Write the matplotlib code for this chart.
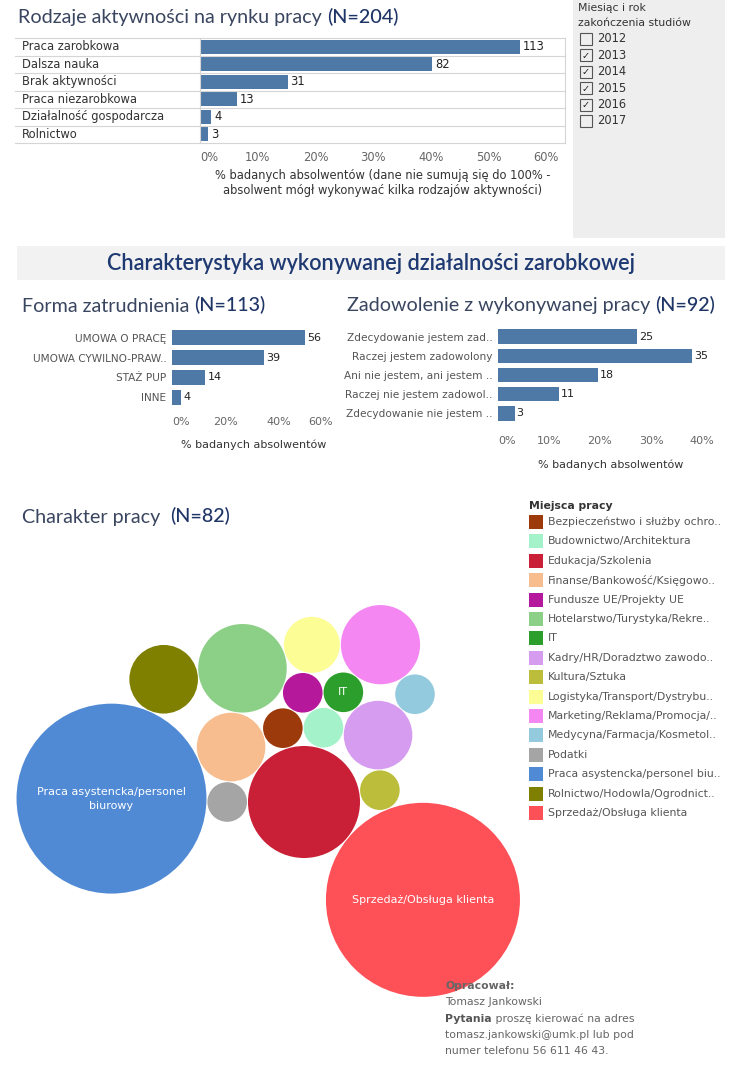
import matplotlib
matplotlib.use('Agg')
import matplotlib.pyplot as plt
from matplotlib.patches import Circle, Rectangle
from matplotlib.transforms import blended_transform_factory
import numpy as np

# --- dane ---
aktywnosci = ['Praca zarobkowa', 'Dalsza nauka', 'Brak aktywności', 'Praca niezarobkowa',
              'Działalność gospodarcza', 'Rolnictwo']
aktywnosci_n = [113, 82, 31, 13, 4, 3]
N_AKT = 204

formy = ['UMOWA O PRACĘ', 'UMOWA CYWILNO-PRAW..', 'STAŻ PUP', 'INNE']
formy_n = [56, 39, 14, 4]
N_FORMY = 113

zadowolenie = ['Zdecydowanie jestem zad..', 'Raczej jestem zadowolony', 'Ani nie jestem, ani jestem ..',
               'Raczej nie jestem zadowol..', 'Zdecydowanie nie jestem ..']
zadowolenie_n = [25, 35, 18, 11, 3]
N_ZAD = 92

lata = ['2012', '2013', '2014', '2015', '2016', '2017']
lata_zaznaczone = [False, True, True, True, True, False]

miejsca = ['Bezpieczeństwo i służby ochro..', 'Budownictwo/Architektura', 'Edukacja/Szkolenia',
           'Finanse/Bankowość/Księgowo..', 'Fundusze UE/Projekty UE', 'Hotelarstwo/Turystyka/Rekre..',
           'IT', 'Kadry/HR/Doradztwo zawodo..', 'Kultura/Sztuka', 'Logistyka/Transport/Dystrybu..',
           'Marketing/Reklama/Promocja/..', 'Medycyna/Farmacja/Kosmetol..', 'Podatki',
           'Praca asystencka/personel biu..', 'Rolnictwo/Hodowla/Ogrodnict..', 'Sprzedaż/Obsługa klienta']
miejsca_n = [1, 1, 8, 3, 1, 5, 1, 3, 1, 2, 4, 1, 1, 23, 3, 24]
miejsca_kolory = ['#9c3a0c', '#a3f2c9', '#c92037', '#f7bd8f', '#b5189b', '#8ccf86', '#2c9e2c', '#d69cf0',
                  '#bcbd3b', '#fdfd96', '#f587f2', '#94cade', '#a5a5a5', '#508ad5', '#7f7f00', '#fe5057']
etykiety_babli = {13: 'Praca asystencka/personel\nbiurowy', 15: 'Sprzedaż/Obsługa klienta', 6: 'IT'}
N_MIEJSCA = 82

# --- styl ---
W, H = 736, 1082
BAR = '#4e79a7'
NAVY = '#3a4660'
NBLUE = '#1f3566'
NARROW = ['Liberation Sans Narrow', 'DejaVu Sans']

fig = plt.figure(figsize=(W / 100, H / 100), dpi=100)


def px_axes(x, y, w, h):
    return fig.add_axes([x / W, 1 - (y + h) / H, w / W, h / H])


def tick_labels(ax, ticks, fs, family, first_left=True, last_right=False):
    ax.set_xticks(ticks)
    ax.set_xticklabels([f'{t}%' for t in ticks], fontsize=fs, color='#666', family=family)
    labs = ax.get_xticklabels()
    if first_left:
        labs[0].set_ha('left')
    if last_right:
        labs[-1].set_ha('right')


# --- Rodzaje aktywności ---
ax1 = px_axes(200, 38, 365, 105)
pct1 = np.array(aktywnosci_n) / N_AKT * 100
y1 = np.arange(len(aktywnosci))
ax1.barh(y1, pct1, height=0.78, color=BAR)
ax1.set_xlim(0, 365 / 5.77)
ax1.set_ylim(len(aktywnosci) - 0.5, -0.5)
tr1 = blended_transform_factory(ax1.transAxes, ax1.transData)
for i, (p, n) in enumerate(zip(pct1, aktywnosci_n)):
    ax1.text(p + 0.5, i, str(n), va='center', ha='left', fontsize=8.3, color='#222')
    ax1.text(-0.488, i, aktywnosci[i], transform=tr1, va='center', ha='left', fontsize=8.3, color='#333')
for b in np.arange(-0.5, len(aktywnosci)):
    ax1.plot([-0.507, 1], [b, b], transform=tr1, color='#d5d5d5', lw=0.8, clip_on=False)
ax1.set_yticks([])
tick_labels(ax1, [0, 10, 20, 30, 40, 50, 60], 8.3, 'DejaVu Sans')
ax1.tick_params(axis='x', length=0, pad=6)
for s in ['top', 'bottom']:
    ax1.spines[s].set_visible(False)
for s in ['left', 'right']:
    ax1.spines[s].set_color('#d5d5d5')
    ax1.spines[s].set_linewidth(0.8)
ax1.set_xlabel('% badanych absolwentów (dane nie sumują się do 100% -\n'
               'absolwent mógł wykonywać kilka rodzajów aktywności)',
               fontsize=8.3, color='#333', linespacing=1.25, labelpad=3)

# --- Forma zatrudnienia ---
ax2 = px_axes(172, 328, 163, 79)
pct2 = np.array(formy_n) / N_FORMY * 100
y2 = np.arange(len(formy))
ax2.barh(y2, pct2, height=0.76, color=BAR)
ax2.set_xlim(0, 163 / 2.68)
ax2.set_ylim(len(formy) - 0.5, -0.5)
for i, (p, n) in enumerate(zip(pct2, formy_n)):
    ax2.text(p + 0.8, i, str(n), va='center', ha='left', fontsize=8, color='#222', family=NARROW)
ax2.set_yticks(y2)
ax2.set_yticklabels(formy, fontsize=7.6, color='#555', family=NARROW)
ax2.tick_params(axis='y', length=0, pad=4)
tick_labels(ax2, [0, 20, 40, 60], 8, NARROW, last_right=True)
ax2.tick_params(axis='x', length=0, pad=7)
for s in ax2.spines.values():
    s.set_visible(False)
ax2.set_xlabel('% badanych absolwentów', fontsize=8, color='#333', family=NARROW, labelpad=9)

# --- Zadowolenie ---
ax3 = px_axes(498, 327, 226, 96)
pct3 = np.array(zadowolenie_n) / N_ZAD * 100
y3 = np.arange(len(zadowolenie))
ax3.barh(y3, pct3, height=0.76, color=BAR)
ax3.set_xlim(0, 226 / 5.1)
ax3.set_ylim(len(zadowolenie) - 0.5, -0.5)
for i, (p, n) in enumerate(zip(pct3, zadowolenie_n)):
    ax3.text(p + 0.4, i, str(n), va='center', ha='left', fontsize=8, color='#222', family=NARROW)
ax3.set_yticks(y3)
ax3.set_yticklabels(zadowolenie, fontsize=7.6, color='#555', family=NARROW)
ax3.tick_params(axis='y', length=0, pad=4)
tick_labels(ax3, [0, 10, 20, 30, 40], 8, NARROW)
ax3.tick_params(axis='x', length=0, pad=9)
for s in ax3.spines.values():
    s.set_visible(False)
ax3.set_xlabel('% badanych absolwentów', fontsize=8, color='#333', family=NARROW, labelpad=10)

# --- Charakter pracy: bąble ułożone stycznie ---
K_R = 19.8
ODSTEP = 1.0
promienie = K_R * np.sqrt(np.array(miejsca_n))


def styczny(a, b, r, strona):
    (xa, ya, ra), (xb, yb, rb) = a, b
    d1, d2 = ra + r + ODSTEP, rb + r + ODSTEP
    D = np.hypot(xb - xa, yb - ya)
    ux, uy = (xb - xa) / D, (yb - ya) / D
    x = (d1 ** 2 - d2 ** 2 + D ** 2) / (2 * D)
    h = np.sqrt(max(d1 ** 2 - x ** 2, 0))
    return xa + x * ux - strona * h * uy, ya + x * uy + strona * h * ux


# (bąbel, sąsiad A, sąsiad B, strona)
uklad = [(3, 2, 12, 1), (13, 12, 3, -1), (0, 2, 3, 1), (1, 2, 0, 1), (4, 0, 1, -1),
         (6, 4, 1, -1), (7, 1, 6, 1), (8, 2, 7, 1), (15, 2, 8, 1), (5, 3, 4, -1),
         (14, 5, 13, 1), (9, 5, 4, -1), (10, 9, 6, -1), (11, 10, 7, -1)]
poz = {2: (0.0, 0.0, promienie[2])}
poz[12] = (-(promienie[2] + promienie[12] + ODSTEP), 0.0, promienie[12])
for k, a, b, s in uklad:
    cx, cy = styczny(poz[a], poz[b], promienie[k], s)
    poz[k] = (cx, cy, promienie[k])

axb = px_axes(0, 590, 525, 420)
axb.set_xlim(-304, 221)
axb.set_ylim(208, -212)
axb.axis('off')
for k, (cx, cy, r) in poz.items():
    axb.add_patch(Circle((cx, cy), r, color=miejsca_kolory[k], lw=0))
    if k in etykiety_babli:
        axb.text(cx, cy, etykiety_babli[k], ha='center', va='center', color='white',
                 fontsize=8, linespacing=1.5)

# --- warstwa tekstów ---
fg = fig.add_axes([0, 0, 1, 1])
fg.set_xlim(0, W)
fg.set_ylim(H, 0)
fg.axis('off')
fg.patch.set_visible(False)


def tytul(x, y, tekst, n_tekst, size=14.2):
    t = fg.text(x, y, tekst, fontsize=size, color=NAVY, family='Lato', weight='normal',
                va='center', ha='left')
    fg.annotate(n_tekst, xy=(1, 0), xycoords=t, va='bottom', ha='left', fontsize=size,
                color=NBLUE, family='Lato', weight='medium')


tytul(18, 18, 'Rodzaje aktywności na rynku pracy ', f'(N={N_AKT})')
tytul(22, 306, 'Forma zatrudnienia ', f'(N={N_FORMY})')
tytul(347, 306, 'Zadowolenie z wykonywanej pracy ', f'(N={N_ZAD})')
tytul(22, 517, 'Charakter pracy  ', f'(N={N_MIEJSCA})')

# filtr lat
fg.add_patch(Rectangle((573, 0), 152, 238, color='#eeeeee', lw=0))
fg.text(578, 8, 'Miesiąc i rok', fontsize=7.8, color='#333', va='center')
fg.text(578, 23, 'zakończenia studiów', fontsize=7.8, color='#333', va='center')
for i, (rok, zazn) in enumerate(zip(lata, lata_zaznaczone)):
    yc = 39 + i * 16.4
    fg.add_patch(Rectangle((580, yc - 6), 12, 12, fc='none', ec='#555', lw=0.8))
    if zazn:
        fg.text(586, yc + 0.5, '✓', fontsize=7, color='#222', ha='center', va='center',
                weight='bold')
    fg.text(597, yc, rok, fontsize=8.3, color='#333', va='center')

# baner
fg.add_patch(Rectangle((17, 246), 708, 34, color='#f2f2f2', lw=0))
fg.text(371, 264, 'Charakterystyka wykonywanej działalności zarobkowej', fontsize=15.6,
        color='#1f3a72', family='Lato', weight='semibold', ha='center', va='center')

# legenda
fg.text(529, 506, 'Miejsca pracy', fontsize=7.8, color='#333', va='center', weight='semibold')
for i, (m, c) in enumerate(zip(miejsca, miejsca_kolory)):
    yc = 522 + i * 19.4
    fg.add_patch(Rectangle((529, yc - 7), 14, 14, color=c, lw=0))
    fg.text(548, yc, m, fontsize=7.8, color='#555', va='center')

# stopka
stopka_y = [986, 1002, 1019, 1035, 1051]
fg.text(445, stopka_y[0], 'Opracował:', fontsize=7.8, color='#666', va='center', weight='bold')
fg.text(445, stopka_y[1], 'Tomasz Jankowski', fontsize=7.8, color='#666', va='center')
t = fg.text(445, stopka_y[2], 'Pytania', fontsize=7.8, color='#555', va='center', weight='bold')
fg.annotate(' proszę kierować na adres', xy=(1, 0), xycoords=t, va='bottom', fontsize=7.8, color='#666')
fg.text(445, stopka_y[3], 'tomasz.jankowski@umk.pl lub pod', fontsize=7.8, color='#666', va='center')
fg.text(445, stopka_y[4], 'numer telefonu 56 611 46 43.', fontsize=7.8, color='#666', va='center')

fig.savefig('out.png', dpi=100)
